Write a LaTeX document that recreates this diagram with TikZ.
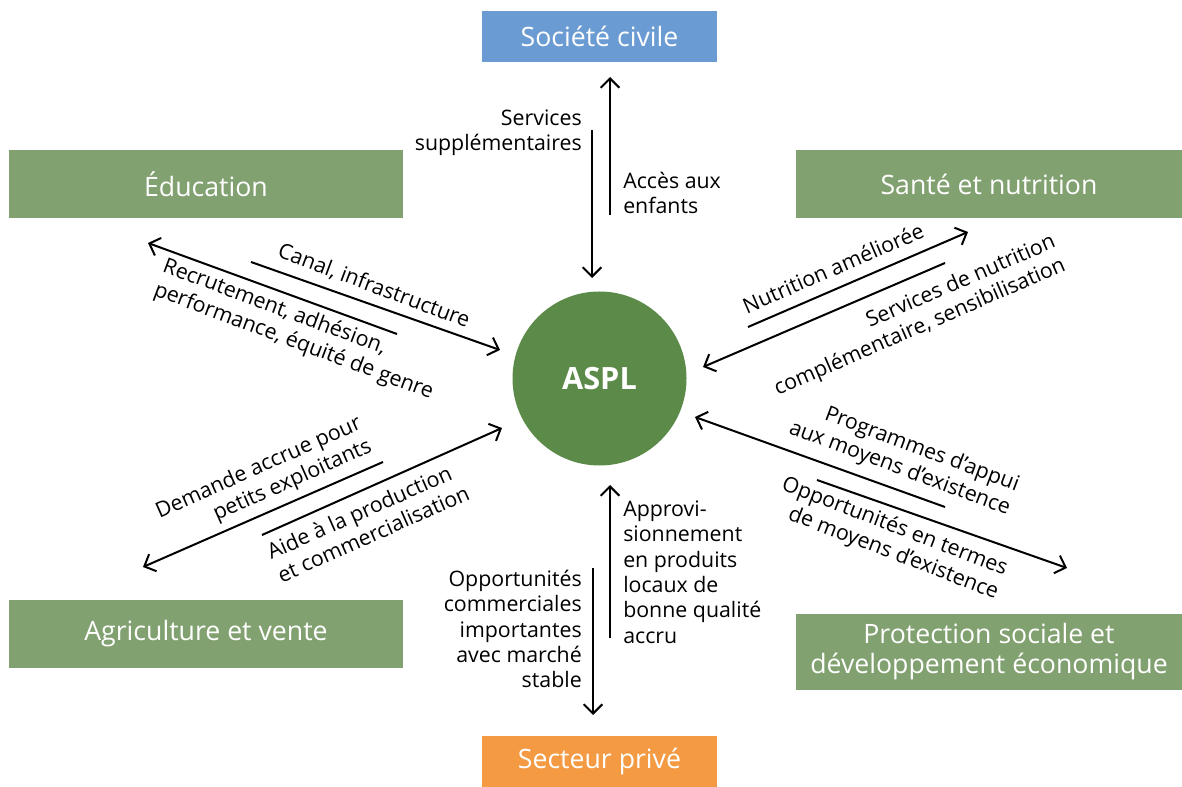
\documentclass[tikz,border=0pt]{standalone}
\usepackage{fontspec}
\setmainfont{Open Sans}
\usetikzlibrary{arrows.meta}
\definecolor{boxgreen}{HTML}{82A170}
\definecolor{boxblue}{HTML}{6A9BD2}
\definecolor{boxorange}{HTML}{F39A42}
\definecolor{hubgreen}{HTML}{5B8A49}
\tikzset{
  sector/.style={fill=boxgreen, text=white, font=\fontsize{20}{22.5}\selectfont,
    align=center, inner sep=0pt, minimum height=#1},
  hub/.style={circle, fill=hubgreen, text=white, minimum size=130.5pt, inner sep=0pt,
    font=\fontsize{23}{26}\selectfont\bfseries},
  flow/.style={line width=1.5pt, -{Straight Barb[length=7pt, width=14pt, line width=1.5pt]}},
  lbl/.style={font=\fontsize{16}{19}\selectfont, inner sep=0pt},
}
\begin{document}
\begin{tikzpicture}[x=0.75pt, y=-0.75pt]
\useasboundingbox (0,0) rectangle (1182,787);

% partner boxes
\node[sector=38.25pt, fill=boxblue, minimum width=176.25pt] (civ) at (599.5,36.5) {Société civile};
\node[sector=51pt, minimum width=295.5pt] (edu) at (206,184) {Éducation};
\node[sector=51pt, minimum width=289.5pt] (san) at (989,184) {Santé et nutrition};
\node[sector=51pt, minimum width=295.5pt] (agr) at (206,634) {Agriculture et vente};
\node[sector=57pt, minimum width=289.5pt] (pro) at (989,652) {Protection sociale et\\développement économique};
\node[sector=38.25pt, fill=boxorange, minimum width=176.25pt] (pri) at (599.5,761.5) {Secteur privé};

% central programme
\node[hub] (aspl) at (599.5,378.5) {ASPL};

% end points of the flows
\coordinate (civA) at (610,215);  \coordinate (civB) at (610,77);
\coordinate (civC) at (592,130);  \coordinate (civD) at (592,278);
\coordinate (priA) at (610,638);  \coordinate (priB) at (610,485);
\coordinate (priC) at (593,568);  \coordinate (priD) at (593,715);
\coordinate (eduA) at (251,262);  \coordinate (eduB) at (500,350);
\coordinate (eduC) at (397,334);  \coordinate (eduD) at (148,243);
\coordinate (sanA) at (748,327);  \coordinate (sanB) at (968,232);
\coordinate (sanC) at (945,263);  \coordinate (sanD) at (703,367);
\coordinate (agrA) at (383,462);  \coordinate (agrB) at (143,567);
\coordinate (agrC) at (262,535);  \coordinate (agrD) at (502,428);
\coordinate (proA) at (945,507);  \coordinate (proB) at (695,417);
\coordinate (proC) at (817,480);  \coordinate (proD) at (1067,568);

% flows
\draw[flow] (civA) -- (civB);
\draw[flow] (civC) -- (civD);
\draw[flow] (priA) -- (priB);
\draw[flow] (priC) -- (priD);
\draw[flow] (eduA) -- (eduB);
\draw[flow] (eduC) -- (eduD);
\draw[flow] (sanA) -- (sanB);
\draw[flow] (sanC) -- (sanD);
\draw[flow] (agrA) -- (agrB);
\draw[flow] (agrC) -- (agrD);
\draw[flow] (proA) -- (proB);
\draw[flow] (proC) -- (proD);

% flow labels
\node[lbl, anchor=east, align=right] (l1) at (582,133) {Services\\supplémentaires};
\node[lbl, anchor=west, align=left] (l2) at (623,193) {Accès aux\\enfants};
\node[lbl, anchor=west, align=left] (l3) at (623,572) {Approvi-\\sionnement\\en produits\\locaux de\\bonne qualité\\accru};
\node[lbl, anchor=east, align=right] (l4) at (582,629) {Opportunités\\commerciales\\importantes\\avec marché\\stable};
\node[lbl, rotate=-20.5] (l5) at (374,286) {Canal, infrastructure};
\node[lbl, rotate=-20.5, align=left] (l6) at (298,330) {Recrutement, adhésion,\\performance, équité de genre};
\node[lbl, rotate=23.5] (l7) at (833,268) {Nutrition améliorée};
\node[lbl, rotate=23.5, align=right] (l8) at (915,316) {Services de nutrition\\complémentaire, sensibilisation};
\node[lbl, rotate=24, align=right] (l9) at (264,480) {Demande accrue pour\\petits exploitants};
\node[lbl, rotate=24, align=left] (l10) at (368,522) {Aide à la production\\et commercialisation};
\node[lbl, rotate=-20.5, align=right] (l11) at (904,457) {Programmes d’appui\\aux moyens d’existence};
\node[lbl, rotate=-21, align=right] (l12) at (890,539) {Opportunités en termes\\de moyens d’existence};
\end{tikzpicture}
\end{document}
